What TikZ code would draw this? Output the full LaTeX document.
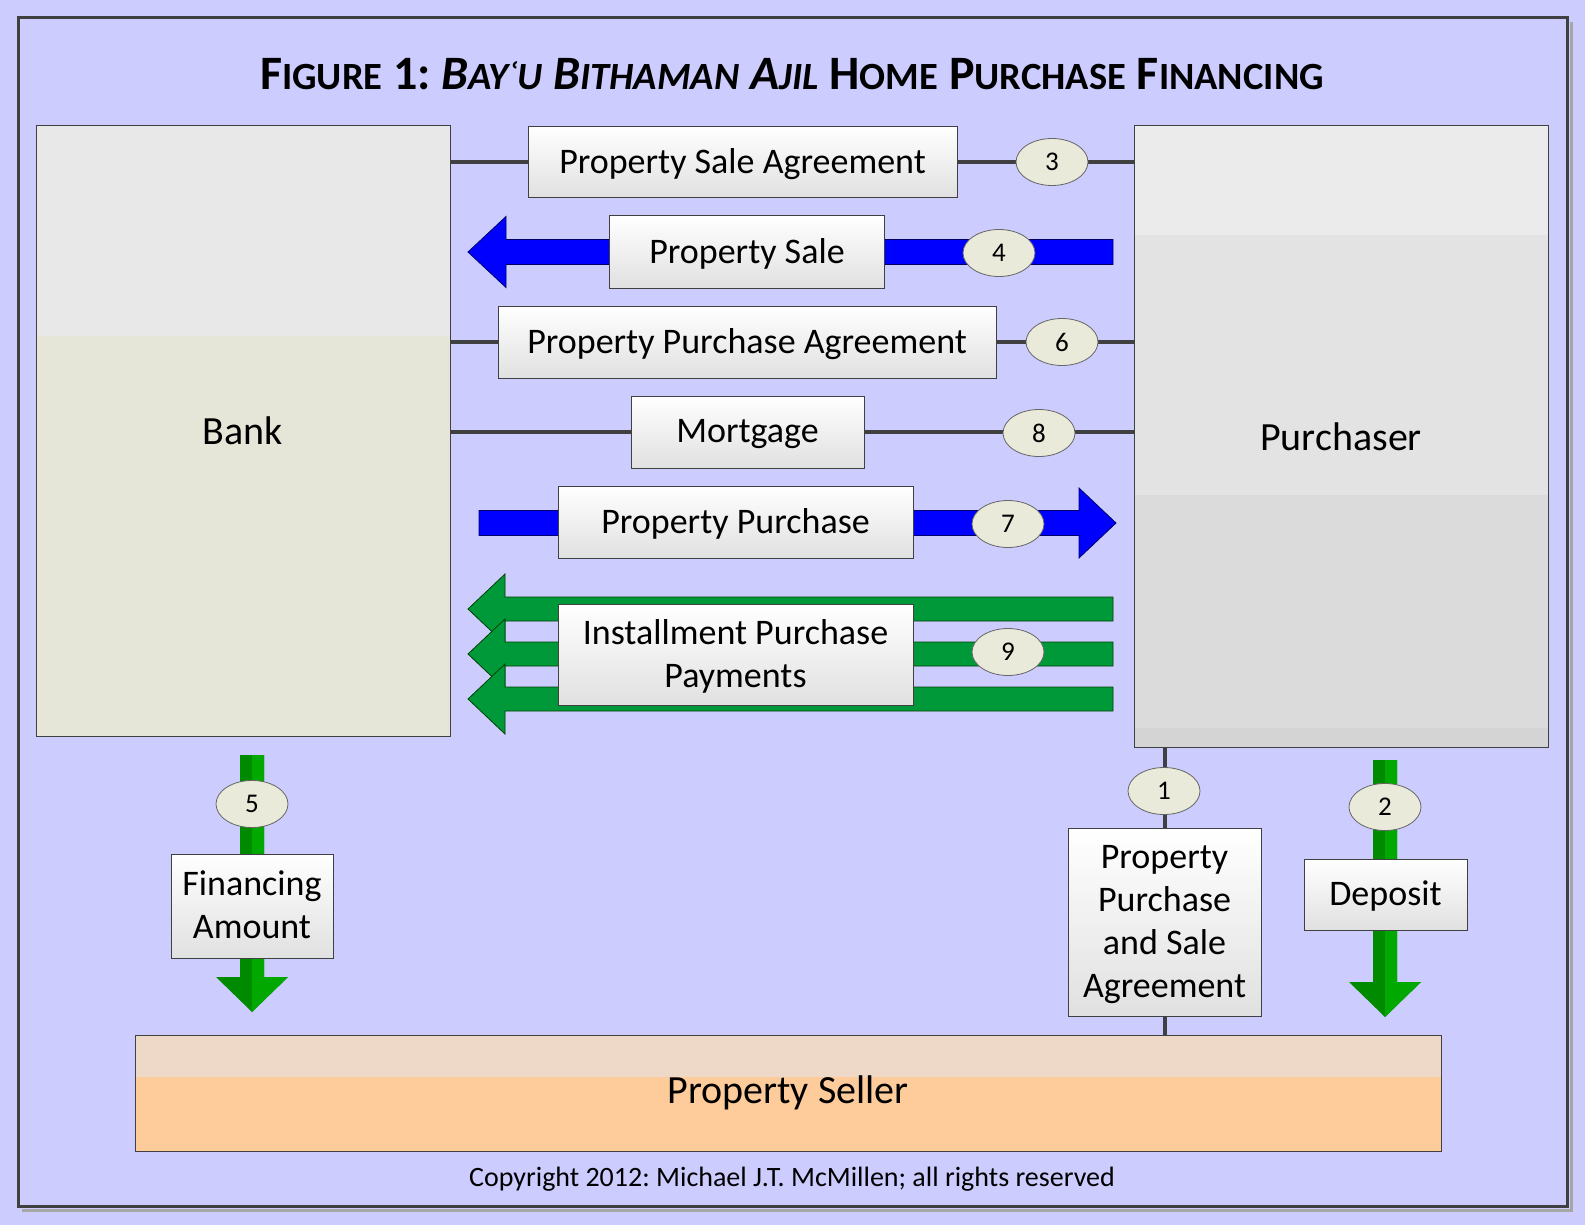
\documentclass[tikz,border=0pt]{standalone}
\usepackage{fontspec}
\setmainfont{Carlito}
\usetikzlibrary{calc,backgrounds,shapes.geometric}
\frenchspacing

\definecolor{lavender}{HTML}{CCCCFF}
\definecolor{framegray}{HTML}{404040}
\definecolor{ovalfill}{HTML}{EAEADB}
\definecolor{bankbeige}{HTML}{E6E6D8}
\definecolor{sellertop}{HTML}{EED8C8}
\definecolor{sellerfill}{HTML}{FECB9A}
\definecolor{flowblue}{HTML}{0000FF}
\definecolor{flowgreen}{HTML}{00993A}
\definecolor{darkgreen}{HTML}{008A00}
\definecolor{lightgreen}{HTML}{00A800}

% small capitals, made by hand
\newcommand{\tsc}[2]{#1{\fontsize{38.5}{38.5}\selectfont #2}}

% fat arrow: style, start, tip, half shaft, half head, head length
\newcommand{\fatarrow}[6]{%
  \draw[#1] ($(#2)!#4pt!90:(#3)$)
    -- ($($(#3)!#6pt!(#2)$)!#4pt!90:(#3)$)
    -- ($($(#3)!#6pt!(#2)$)!#5pt!90:(#3)$)
    -- (#3)
    -- ($($(#3)!#6pt!(#2)$)!#5pt!-90:(#3)$)
    -- ($($(#3)!#6pt!(#2)$)!#4pt!-90:(#3)$)
    -- ($(#2)!#4pt!-90:(#3)$) -- cycle;}
% lighter half of a fat arrow
\newcommand{\halfarrow}[6]{%
  \fill[#1] (#2) -- ($(#2)!#4pt!90:(#3)$)
    -- ($($(#3)!#6pt!(#2)$)!#4pt!90:(#3)$)
    -- ($($(#3)!#6pt!(#2)$)!#5pt!90:(#3)$)
    -- (#3) -- cycle;}

\tikzset{
  label box/.style={draw=framegray, line width=1pt, top color=white,
    bottom color=black!12, inner sep=0pt, align=center, text depth=2pt,
    font=\fontsize{36}{43}\selectfont},
  step num/.style={ellipse, draw=framegray!80, line width=0.8pt, fill=ovalfill,
    minimum width=72, minimum height=47, inner sep=0pt,
    font=\fontsize{27}{27}\selectfont},
  party/.style={draw=framegray, line width=1pt, inner sep=0pt,
    font=\fontsize{40}{40}\selectfont},
  agreement line/.style={draw=framegray, line width=4pt},
  blue flow/.style={fill=flowblue, draw=blue!40!black, line width=0.8pt},
  green flow/.style={fill=flowgreen, draw=green!25!black, line width=0.8pt},
}

\begin{document}
\begin{tikzpicture}[x=1pt, y=-1pt]
  \useasboundingbox (0,0) rectangle (1585,1225);
  \begin{scope}[on background layer]
    \fill[lavender] (0,0) rectangle (1585,1225);
  \end{scope}

  % frame with shadow
  \draw[black!35, line width=3pt] (22,1210) -- (1571,1210) -- (1571,22);
  \draw[framegray, line width=3pt] (18,18) rectangle (1567,1206);

  \node (title) at (792,74) {\bfseries\fontsize{48}{48}\selectfont
    \tsc{F}{IGURE} 1: \itshape\tsc{B}{AYʿU} \tsc{B}{ITHAMAN} \tsc{A}{JIL}\upshape\
    \tsc{H}{OME} \tsc{P}{URCHASE} \tsc{F}{INANCING}};

  % parties
  \fill[black!9] (36,126) rectangle (450,336);
  \fill[bankbeige] (36,336) rectangle (450,736);
  \node[party, minimum width=414, minimum height=610] (bank) at (243,431) {Bank};

  \fill[black!8] (1134,126) rectangle (1548,235);
  \fill[black!11] (1134,235) rectangle (1548,495);
  \fill[black!14] (1134,495) rectangle (1548,728);
  \fill[black!17] (1134,728) rectangle (1548,747);
  \node[party, minimum width=414, minimum height=621] (purchaser) at (1341,436.5) {Purchaser};

  \fill[sellertop] (135,1035) rectangle (1441,1077);
  \fill[sellerfill] (135,1077) rectangle (1441,1151);
  \node[party, minimum width=1306, minimum height=116] (seller) at (788,1093) {Property Seller};

  % documents and flows
  \node[label box, minimum width=429, minimum height=71] (psa) at (742.5,162) {Property Sale Agreement};
  \node[label box, minimum width=275, minimum height=72] (ps) at (747,252) {Property Sale};
  \node[label box, minimum width=498, minimum height=72] (ppa) at (747,342) {Property Purchase Agreement};
  \node[label box, minimum width=233, minimum height=72] (mtg) at (747.5,432) {Mortgage};
  \node[label box, minimum width=355, minimum height=72] (pp) at (735.5,522) {Property Purchase};
  \node[label box, minimum width=355, minimum height=101] (ipp) at (735.5,654.5) {Installment Purchase\\Payments};
  \node[label box, minimum width=162, minimum height=104] (fa) at (252,906) {Financing\\Amount};
  \node[label box, minimum width=193, minimum height=188] (ppsa) at (1164.5,922) {Property\\Purchase\\and Sale\\Agreement};
  \node[label box, minimum width=163, minimum height=71] (dep) at (1385.5,894.5) {Deposit};

  % step numbers
  \node[step num] (n1) at (1164,791) {1};
  \node[step num] (n2) at (1385,807) {2};
  \node[step num] (n3) at (1052,162) {3};
  \node[step num] (n4) at (999,253) {4};
  \node[step num] (n5) at (252,804) {5};
  \node[step num] (n6) at (1062,342) {6};
  \node[step num] (n7) at (1008,524) {7};
  \node[step num] (n8) at (1039,433) {8};
  \node[step num] (n9) at (1008,652) {9};

  \begin{scope}[on background layer]
    \draw[agreement line] (bank.east |- psa) -- (purchaser.west |- psa);
    \draw[agreement line] (bank.east |- ppa) -- (purchaser.west |- ppa);
    \draw[agreement line] (bank.east |- mtg) -- (purchaser.west |- mtg);
    \draw[agreement line] (purchaser.south -| ppsa) -- (seller.north -| ppsa);

    \coordinate (ps-from) at (1113,252);
    \coordinate (ps-to) at (468,252);
    \fatarrow{blue flow}{ps-from}{ps-to}{12.5}{35.5}{38}
    \coordinate (pp-from) at (479,523);
    \coordinate (pp-to) at (1116,523);
    \fatarrow{blue flow}{pp-from}{pp-to}{12.5}{35}{37}

    \foreach \y [count=\i] in {609,654,699} {
      \coordinate (ip\i-from) at (1113,\y);
      \coordinate (ip\i-to) at (468,\y);
      \fatarrow{green flow}{ip\i-from}{ip\i-to}{12}{35}{37}
    }

    \coordinate (fa-from) at (252,755);
    \coordinate (fa-to) at (252,1012);
    \fatarrow{fill=darkgreen, draw=none}{fa-from}{fa-to}{12}{36}{35}
    \halfarrow{lightgreen}{fa-from}{fa-to}{12}{36}{35}
    \coordinate (dep-from) at (1385,760);
    \coordinate (dep-to) at (1385,1017);
    \fatarrow{fill=darkgreen, draw=none}{dep-from}{dep-to}{12}{36}{35}
    \halfarrow{lightgreen}{dep-from}{dep-to}{12}{36}{35}
  \end{scope}

  \node[font=\fontsize{28}{28}\selectfont] (copyright) at (792,1179)
    {Copyright 2012: Michael J.T. McMillen; all rights reserved};
\end{tikzpicture}
\end{document}
